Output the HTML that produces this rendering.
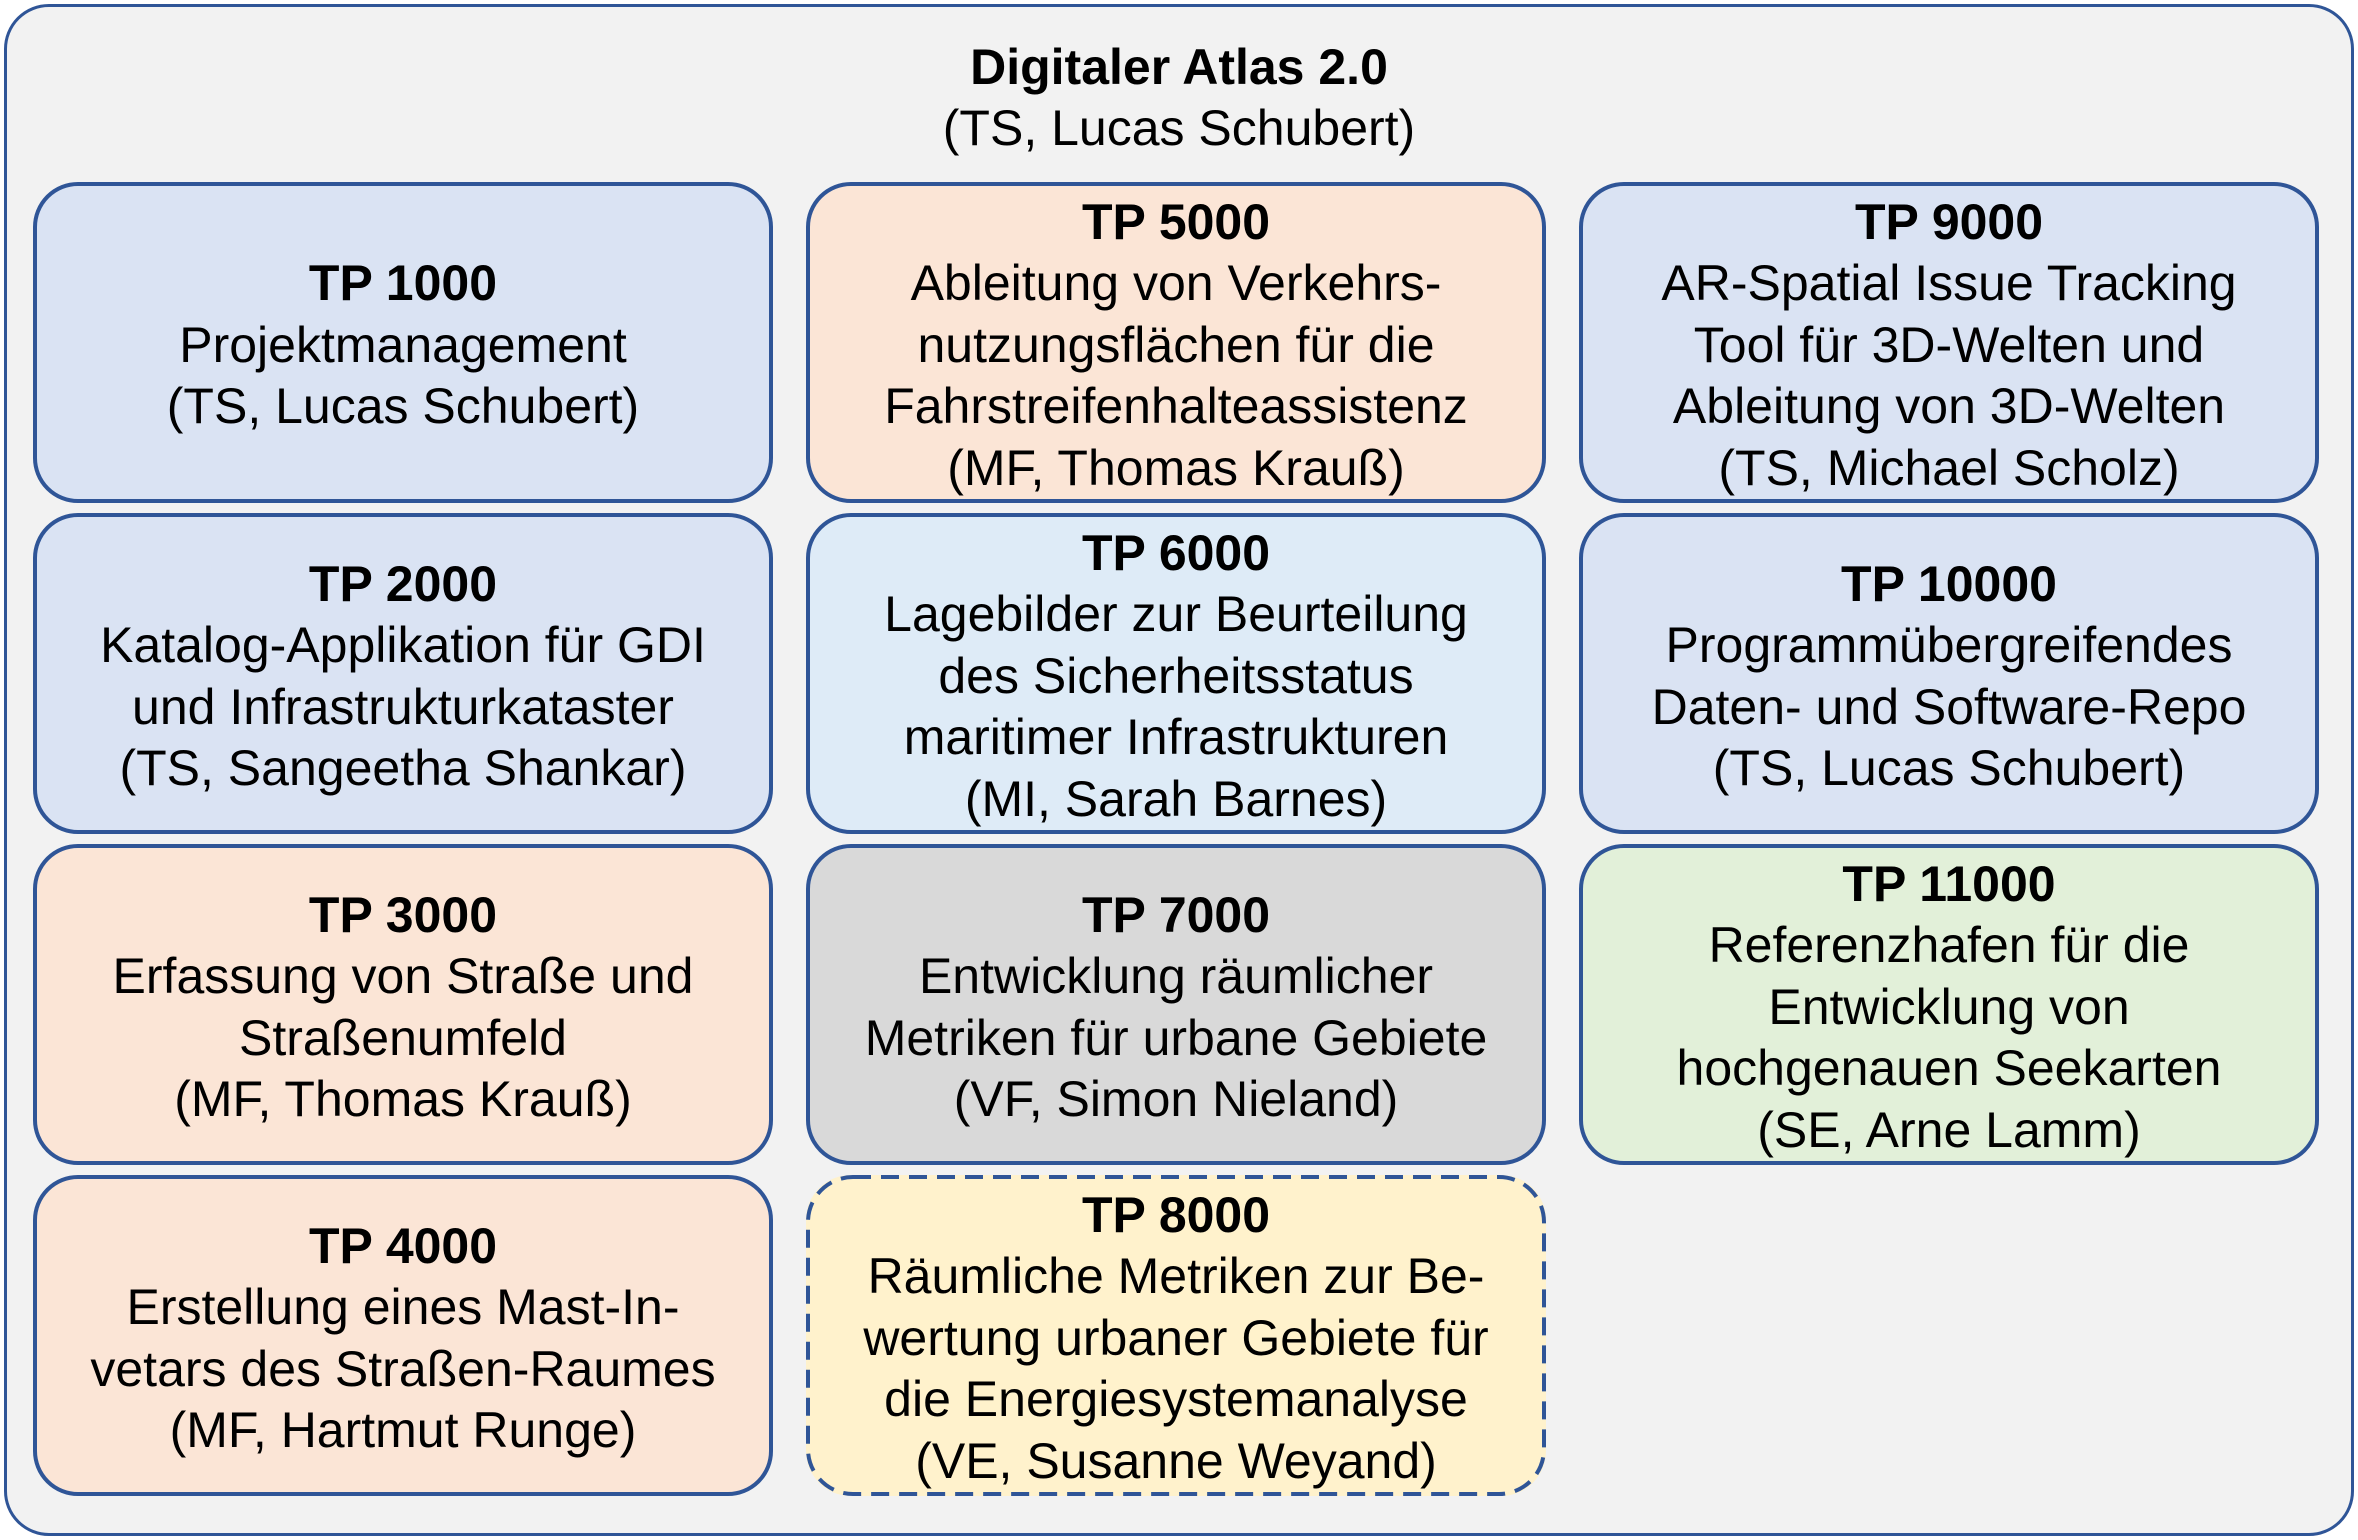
<!DOCTYPE html>
<html><head><meta charset="utf-8"><style>
html,body{margin:0;padding:0;background:#fff;}
body{width:2358px;height:1540px;position:relative;font-family:"Liberation Sans",Arial,sans-serif;color:#000;}
.outer{position:absolute;left:4px;top:4px;width:2344px;height:1526px;border:3px solid #2f5597;border-radius:45px;background:#f2f2f2;}
.title{position:absolute;left:0;width:2358px;top:37px;text-align:center;font-size:50px;line-height:61px;}
.box{position:absolute;width:732px;height:313px;border:4px solid #2f5597;border-radius:45px;display:flex;align-items:center;justify-content:center;text-align:center;font-size:50px;line-height:61.5px;box-sizing:content-box;}
.box div{position:relative;top:3px;}
b{font-weight:bold;}
.c1{left:33px}.c2{left:806px}.c3{left:1579px}
.r1{top:182px}.r2{top:513px}.r3{top:844px}.r4{top:1175px}
.blue{background:#dae3f3}.peach{background:#fbe5d6}.lb{background:#deebf7}.gray{background:#d9d9d9}.green{background:#e2f0d9}.yellow{background:#fff2cc;border-color:transparent}
svg{position:absolute;left:0;top:0;}
</style></head><body>
<div class="outer"></div>
<div class="title"><b>Digitaler Atlas 2.0</b><br>(TS, Lucas Schubert)</div>
<div class="box c1 r1 blue"><div><b>TP 1000</b><br>Projektmanagement<br>(TS, Lucas Schubert)</div></div>
<div class="box c1 r2 blue"><div><b>TP 2000</b><br>Katalog-Applikation für GDI<br>und Infrastrukturkataster<br>(TS, Sangeetha Shankar)</div></div>
<div class="box c1 r3 peach"><div><b>TP 3000</b><br>Erfassung von Straße und<br>Straßenumfeld<br>(MF, Thomas Krauß)</div></div>
<div class="box c1 r4 peach"><div><b>TP 4000</b><br>Erstellung eines Mast-In-<br>vetars des Straßen-Raumes<br>(MF, Hartmut Runge)</div></div>
<div class="box c2 r1 peach"><div><b>TP 5000</b><br>Ableitung von Verkehrs-<br>nutzungsflächen für die<br>Fahrstreifenhalteassistenz<br>(MF, Thomas Krauß)</div></div>
<div class="box c2 r2 lb"><div><b>TP 6000</b><br>Lagebilder zur Beurteilung<br>des Sicherheitsstatus<br>maritimer Infrastrukturen<br>(MI, Sarah Barnes)</div></div>
<div class="box c2 r3 gray"><div><b>TP 7000</b><br>Entwicklung räumlicher<br>Metriken für urbane Gebiete<br>(VF, Simon Nieland)</div></div>
<div class="box c2 r4 yellow"><svg width="740" height="321" style="left:-4px;top:-4px"><rect x="2" y="2" width="736" height="317" rx="45" ry="45" fill="none" stroke="#2f5597" stroke-width="4" stroke-dasharray="18 10"/></svg><div><b>TP 8000</b><br>Räumliche Metriken zur Be-<br>wertung urbaner Gebiete für<br>die Energiesystemanalyse<br>(VE, Susanne Weyand)</div></div>
<div class="box c3 r1 blue"><div><b>TP 9000</b><br>AR-Spatial Issue Tracking<br>Tool für 3D-Welten und<br>Ableitung von 3D-Welten<br>(TS, Michael Scholz)</div></div>
<div class="box c3 r2 blue"><div><b>TP 10000</b><br>Programmübergreifendes<br>Daten- und Software-Repo<br>(TS, Lucas Schubert)</div></div>
<div class="box c3 r3 green"><div><b>TP 11000</b><br>Referenzhafen für die<br>Entwicklung von<br>hochgenauen Seekarten<br>(SE, Arne Lamm)</div></div>
</body></html>
